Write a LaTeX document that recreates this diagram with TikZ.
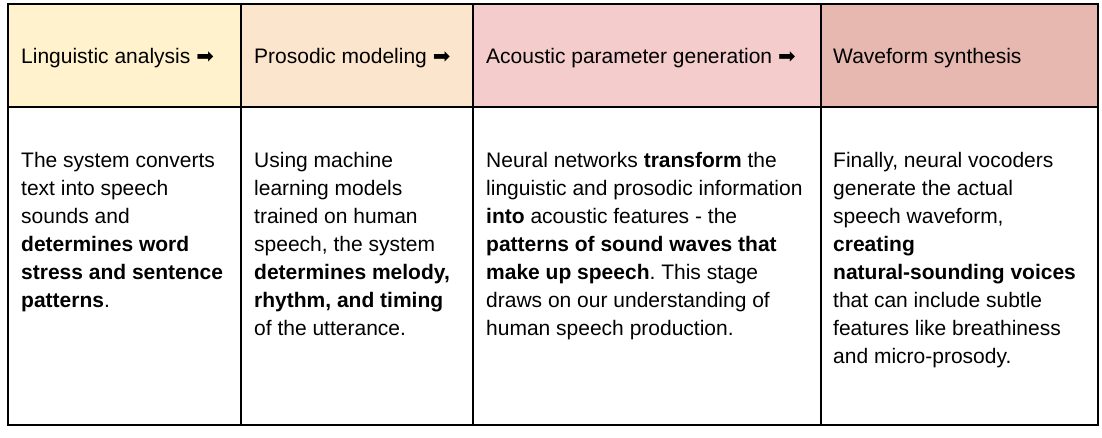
\documentclass[tikz,border=0pt]{standalone}
\usepackage{fontspec}
\setmainfont{Liberation Sans}
\newfontfamily\arrowfont{DejaVu Sans}
\usetikzlibrary{positioning}
\frenchspacing

\definecolor{stepA}{HTML}{FFF2CC}
\definecolor{stepB}{HTML}{FCE5CD}
\definecolor{stepC}{HTML}{F4CCCC}
\definecolor{stepD}{HTML}{E6B8AF}
\newcommand{\nextarrow}{{\arrowfont\fontsize{21}{21}\selectfont ➡}}

\begin{document}
\begin{tikzpicture}[x=1pt,y=1pt,
  headcell/.style={draw,line width=1.5pt,outer sep=0pt,inner sep=0pt,minimum height=103pt},
  bodycell/.style={draw,line width=1.5pt,outer sep=0pt,inner sep=0pt,minimum height=318pt,fill=white},
  celltext/.style={inner sep=0pt,align=left,font=\fontsize{21}{28}\selectfont}]
 \useasboundingbox[fill=white] (0,0) rectangle (1102,-438);
 % header row
 \node[headcell,fill=stepA,minimum width=233pt,anchor=north west] (h1) at (8,-4) {};
 \node[headcell,fill=stepB,minimum width=232pt,right=0pt of h1] (h2) {};
 \node[headcell,fill=stepC,minimum width=348pt,right=0pt of h2] (h3) {};
 \node[headcell,fill=stepD,minimum width=277pt,right=0pt of h3] (h4) {};
 % body row
 \node[bodycell,minimum width=233pt,below=0pt of h1] (b1) {};
 \node[bodycell,minimum width=232pt,below=0pt of h2] (b2) {};
 \node[bodycell,minimum width=348pt,below=0pt of h3] (b3) {};
 \node[bodycell,minimum width=277pt,below=0pt of h4] (b4) {};
 % header texts
 \node[celltext,anchor=base west] (l1) at ([xshift=13pt,yshift=-8.5pt]h1.west) {Linguistic analysis \nextarrow};
 \node[celltext,anchor=base west] (l2) at ([xshift=13pt,yshift=-8.5pt]h2.west) {Prosodic modeling \nextarrow};
 \node[celltext,anchor=base west] (l3) at ([xshift=13pt,yshift=-8.5pt]h3.west) {Acoustic parameter generation \nextarrow};
 \node[celltext,anchor=base west] (l4) at ([xshift=12pt,yshift=-8.5pt]h4.west) {Waveform synthesis};
 % body texts
 \node[celltext,anchor=north west] (d1) at ([xshift=13pt,yshift=-45pt]b1.north west)
  {The system converts\\ text into speech\\ sounds and\\ \textbf{determines word}\\ \textbf{stress and sentence}\\ \textbf{patterns}.};
 \node[celltext,anchor=north west] (d2) at ([xshift=13pt,yshift=-45pt]b2.north west)
  {Using machine\\ learning models\\ trained on human\\ speech, the system\\ \textbf{determines melody,}\\ \textbf{rhythm, and timing}\\ of the utterance.};
 \node[celltext,anchor=north west] (d3) at ([xshift=13pt,yshift=-45pt]b3.north west)
  {Neural networks \textbf{transform} the\\ linguistic and prosodic information\\ \textbf{into} acoustic features - the\\ \textbf{patterns of sound waves that}\\ \textbf{make up speech}. This stage\\ draws on our understanding of\\ human speech production.};
 \node[celltext,anchor=north west] (d4) at ([xshift=12pt,yshift=-45pt]b4.north west)
  {Finally, neural vocoders\\ generate the actual\\ speech waveform,\\ \textbf{creating}\\ \textbf{natural-sounding voices}\\ that can include subtle\\ features like breathiness\\ and micro-prosody.};
\end{tikzpicture}
\end{document}
